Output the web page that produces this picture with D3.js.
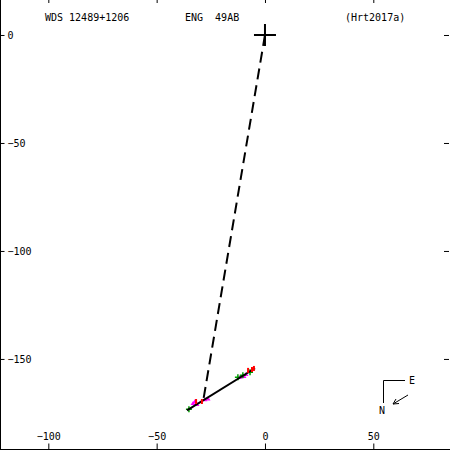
<!DOCTYPE html>
<html>
<head>
<meta charset="utf-8">
<script src="https://cdn.jsdelivr.net/npm/d3@7"></script>
<style>
body { margin: 0; background: #fff; }
text { font-family: "DejaVu Sans Mono", monospace; font-size: 10px; }
</style>
</head>
<body>
<div id="chart"></div>
<script>
// tick values
const xTicks = [-100, -50, 0, 50]
const yTicks = [0, -50, -100, -150]

// predicted position line (primary -> companion)
const dashLine = [[0, 0], [-28.6, -169.9]]
// orbit arc
const orbitLine = [[-36.0, -173.8], [-4.6, -154.3]]

// observations
const greenObs = [[-35.1, -173.3], [-12.5, -158.5], [-10.2, -157.6], [-6.9, -156.2]]
const magentaObs = [[-33.2, -170.6], [-32.3, -169.7], [-31.4, -171.1], [-27.7, -168.9],
    [-26.3, -168.5], [-11.5, -158.5], [-9.7, -158.1], [-8.8, -157.2]]
const redObs = [[-31.8, -169.7], [-29.1, -169.7], [-7.8, -155.3], [-6.0, -154.9], [-5.1, -154.4]]

const width = 450, height = 450

const x = d3.scaleLinear().domain([-122.3, 85.4]).range([0, 450])
const y = d3.scaleLinear().domain([16.2, -191.7]).range([0, 449])

const svg = d3.select("#chart").append("svg")
    .attr("width", width)
    .attr("height", height)

// left axis (labels inside)
svg.append("g")
    .attr("transform", "translate(0.5,0)")
    .call(d3.axisRight(y).tickValues(yTicks).tickSize(4).tickPadding(3))
    .call(g => g.select(".domain").attr("d", "M0,0V449"))

// bottom axis (labels above)
svg.append("g")
    .attr("transform", "translate(0,449.5)")
    .call(d3.axisTop(x).tickValues(xTicks).tickSize(6).tickPadding(4))
    .call(g => g.select(".domain").attr("d", "M0,0H450"))

// top ticks
svg.append("g")
    .call(d3.axisBottom(x).tickValues(xTicks).tickSize(3).tickFormat(""))
    .call(g => g.select(".domain").remove())

// right ticks
svg.append("g")
    .attr("transform", "translate(449,0)")
    .call(d3.axisLeft(y).tickValues(yTicks).tickSize(5).tickFormat(""))
    .call(g => g.select(".domain").remove())

svg.selectAll(".tick text").attr("fill", "#000").style("font-family", "DejaVu Sans Mono").style("font-size", "10px")

// titles
svg.append("text").attr("x", 45).attr("y", 21).text("WDS 12489+1206")
svg.append("text").attr("x", 185).attr("y", 21).attr("xml:space", "preserve").text("ENG  49AB")
svg.append("text").attr("x", 345).attr("y", 21).text("(Hrt2017a)")

const line = d3.line().x(d => x(d[0])).y(d => y(d[1]))

svg.append("path")
    .attr("d", line(dashLine))
    .attr("fill", "none")
    .attr("stroke", "#000")
    .attr("stroke-width", 2)
    .attr("stroke-dasharray", "11,6")

// primary star cross
svg.append("path")
    .attr("d", `M${x(0) - 11},${y(0)}H${x(0) + 11}M${x(0)},${y(0) - 11}V${y(0) + 11}`)
    .attr("stroke", "#000")
    .attr("stroke-width", 2)

// observations
svg.selectAll(".mag").data(magentaObs).enter().append("path")
    .attr("class", "mag")
    .attr("d", d => `M${x(d[0])},${y(d[1]) - 2.5}L${x(d[0]) + 2.5},${y(d[1]) + 1.5}L${x(d[0]) - 2.5},${y(d[1]) + 1.5}Z`)
    .attr("fill", "#ff00ff")

svg.selectAll(".grn").data(greenObs).enter().append("path")
    .attr("class", "grn")
    .attr("d", d => `M${x(d[0]) - 3},${y(d[1])}H${x(d[0]) + 3}M${x(d[0])},${y(d[1]) - 3}V${y(d[1]) + 3}`)
    .attr("stroke", "#00a000")
    .attr("stroke-width", 1.5)

// orbit arc
svg.append("path")
    .attr("d", line(orbitLine))
    .attr("fill", "none")
    .attr("stroke", "#000")
    .attr("stroke-width", 2)

svg.selectAll(".red").data(redObs).enter().append("path")
    .attr("class", "red")
    .attr("d", d => `M${x(d[0])},${y(d[1]) - 2.5}V${y(d[1]) + 2.5}`)
    .attr("stroke", "#ff0000")
    .attr("stroke-width", 2)

// compass
const cmp = svg.append("g").attr("stroke", "#000").attr("fill", "none")
cmp.append("path").attr("d", "M383.5,403V380.5H405")
cmp.append("path").attr("d", "M408,395L393,404M393,404L399,403.5M393,404L396,399")
svg.append("text").attr("x", 409).attr("y", 384).text("E")
svg.append("text").attr("x", 379).attr("y", 414).text("N")
</script>
</body>
</html>
